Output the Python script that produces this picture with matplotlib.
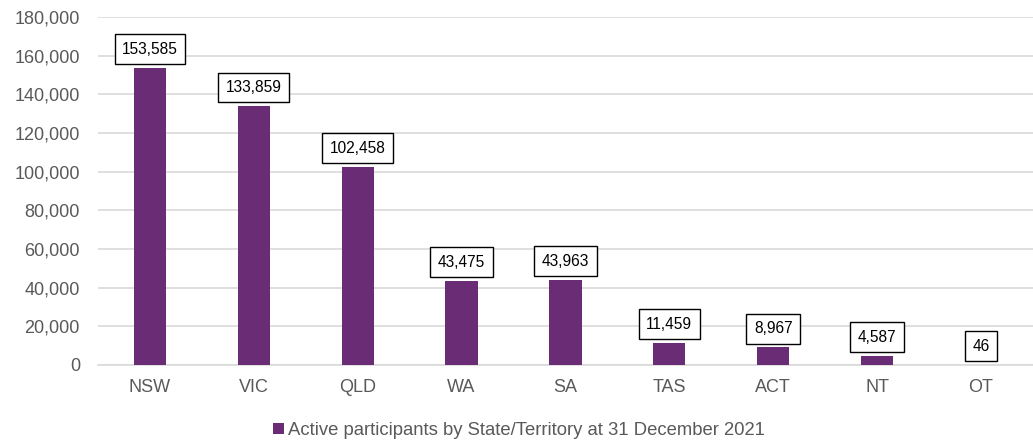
import matplotlib
matplotlib.use("Agg")
import matplotlib.pyplot as plt
from matplotlib.patches import Patch
from matplotlib.ticker import FuncFormatter

categories = ["NSW", "VIC", "QLD", "WA", "SA", "TAS", "ACT", "NT", "OT"]
values = [153585, 133859, 102458, 43475, 43963, 11459, 8967, 4587, 46]
series_name = "Active participants by State/Territory at 31 December 2021"
yticks = [0, 20000, 40000, 60000, 80000, 100000, 120000, 140000, 160000, 180000]

bar_color = "#6B2C76"
text_gray = "#595959"
grid_gray = "#D9D9D9"

plt.rcParams['font.family'] = ['Liberation Sans', 'DejaVu Sans']

fig = plt.figure(figsize=(10.33, 4.46), dpi=100)
ax = fig.add_axes([0.0949, 0.182, 0.905, 0.780])

x = list(range(len(categories)))
ax.bar(x, values, width=0.31, color=bar_color, zorder=3)

for xi, v in zip(x, values):
    ax.annotate(f"{v:,}", (xi, v), xytext=(0, 8), textcoords="offset points",
                ha="center", va="bottom", fontsize=11.2, color="black", zorder=5,
                bbox=dict(boxstyle="square,pad=0.48", fc="white", ec="black", lw=1.0))

ax.set_xlim(-0.5, len(categories) - 0.5)
ax.set_ylim(0, 180000)
ax.set_yticks(yticks)
ax.yaxis.set_major_formatter(FuncFormatter(lambda v, p: f"{int(v):,}"))
ax.set_xticks(x)
ax.set_xticklabels(categories)
ax.tick_params(axis="y", length=0, pad=13, labelsize=13, labelcolor=text_gray)
ax.tick_params(axis="x", length=0, pad=10, labelsize=13, labelcolor=text_gray)
ax.grid(axis="y", color=grid_gray, lw=1.2, zorder=0)
for s in ["top", "right", "left"]:
    ax.spines[s].set_visible(False)
ax.spines["bottom"].set_color(grid_gray)
ax.spines["bottom"].set_linewidth(1.2)

handle = Patch(facecolor=bar_color, edgecolor="none")
fig.legend([handle], [series_name], loc="center", bbox_to_anchor=(0.5024, 0.035),
           frameon=False, fontsize=13.3, labelcolor=text_gray,
           handlelength=0.6, handleheight=0.6, handletextpad=0.25)

fig.savefig("out.png", dpi=100)
